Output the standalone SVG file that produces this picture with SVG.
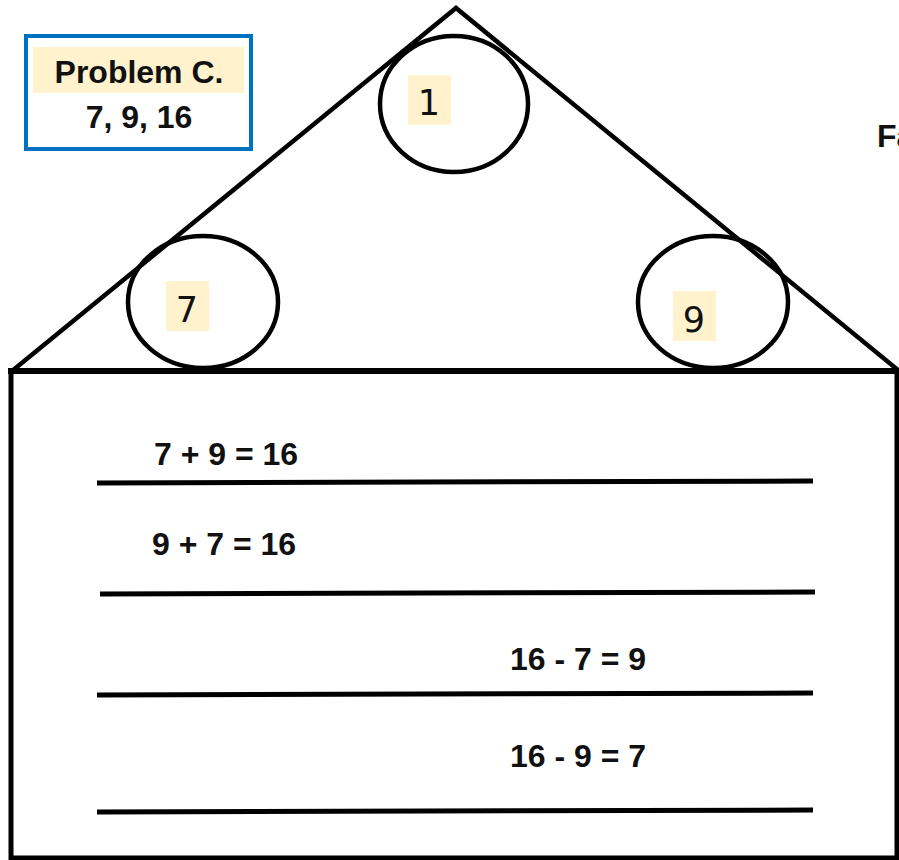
<svg xmlns="http://www.w3.org/2000/svg" width="899" height="860" viewBox="0 0 899 860">
<style>
.ln{stroke:#000;fill:none;stroke-linecap:butt}
.eq{font-family:"Liberation Sans",Arial,sans-serif;font-weight:bold;font-size:32px;fill:#111}
.num{font-family:"DejaVu Sans","Noto Sans",sans-serif;font-size:35px;fill:#111;text-anchor:middle}
.hl{fill:#FFF2CC}
</style>
<rect width="899" height="860" fill="#fff"/>
<g id="house">
<polyline class="ln" points="12,371 456,8 898,370" stroke-width="4.5"/>
<line class="ln" x1="8" y1="371" x2="899" y2="371" stroke-width="6"/>
<polyline class="ln" points="11,371 11,858 897,858 897,371" stroke-width="5"/>
</g>
<g id="circle-top">
<ellipse class="ln" cx="454" cy="104" rx="74" ry="68" stroke-width="4.5"/>
<rect class="hl" x="408" y="75" width="43" height="50"/>
<text class="num" x="429" y="115">1</text>
</g>
<g id="circle-left">
<ellipse class="ln" cx="203" cy="302" rx="75" ry="66" stroke-width="4.5"/>
<rect class="hl" x="166" y="281" width="43" height="50"/>
<text class="num" x="187" y="322">7</text>
</g>
<g id="circle-right">
<ellipse class="ln" cx="713" cy="302" rx="75" ry="66" stroke-width="4.5"/>
<rect class="hl" x="673" y="291" width="43" height="50"/>
<text class="num" x="694" y="332">9</text>
</g>
<g id="problem">
<rect x="26" y="36" width="225" height="113" fill="#fff" stroke="#0070C0" stroke-width="4"/>
<rect class="hl" x="33" y="47" width="211" height="46"/>
<text class="eq" x="139" y="83" text-anchor="middle" font-size="31">Problem C.</text>
<text class="eq" x="139" y="128" text-anchor="middle" font-size="31">7, 9, 16</text>
</g>
<g id="title">
<text class="eq" x="877" y="147" font-size="30">Fa</text>
</g>
<g id="equations">
<line class="ln" x1="97" y1="483" x2="813" y2="481" stroke-width="5"/>
<text class="eq" x="154" y="465">7 + 9 = 16</text>
<line class="ln" x1="100" y1="594" x2="815" y2="592" stroke-width="5"/>
<text class="eq" x="152" y="555">9 + 7 = 16</text>
<line class="ln" x1="97" y1="695" x2="813" y2="693" stroke-width="5"/>
<text class="eq" x="510" y="670">16 - 7 = 9</text>
<line class="ln" x1="97" y1="812" x2="813" y2="810" stroke-width="5"/>
<text class="eq" x="510" y="767">16 - 9 = 7</text>
</g>
</svg>
